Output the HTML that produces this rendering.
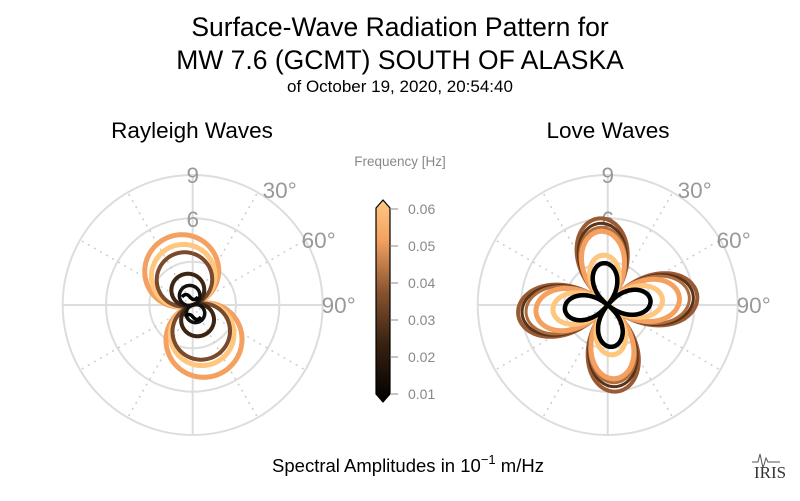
<!DOCTYPE html>
<html><head><meta charset="utf-8"><style>
body{margin:0;background:#fff;width:800px;height:496px;overflow:hidden;font-family:"Liberation Sans",sans-serif}
</style></head><body>
<svg id="s" width="800" height="496" xmlns="http://www.w3.org/2000/svg" font-family="Liberation Sans, sans-serif">
<defs><linearGradient id="cm" x1="0" y1="1" x2="0" y2="0">
<stop offset="0" stop-color="#000"/><stop offset="0.3" stop-color="#3a2312"/><stop offset="0.55" stop-color="#8a5530"/><stop offset="0.8" stop-color="#f4a060"/><stop offset="1" stop-color="#ffc884"/></linearGradient></defs>
<text x="400" y="36" font-size="26.5" text-anchor="middle">Surface-Wave Radiation Pattern for</text>
<text x="400" y="69" font-size="26.5" text-anchor="middle">MW 7.6 (GCMT) SOUTH OF ALASKA</text>
<text x="400" y="92" font-size="17" text-anchor="middle">of October 19, 2020, 20:54:40</text>
<text x="192" y="138" font-size="22.5" text-anchor="middle">Rayleigh Waves</text>
<text x="608" y="138" font-size="22.5" text-anchor="middle">Love Waves</text>
<g id="p1"></g><g id="p2"></g>
<text x="400" y="166" font-size="13.5" fill="#888" text-anchor="middle">Frequency [Hz]</text>
<path d="M376,208 L383,200 L390,208 L390,394 L383,402 L376,394 Z" fill="url(#cm)" stroke="#000" stroke-width="1.2"/>
<g font-size="14" fill="#888" stroke="#888">
<line x1="390" y1="209" x2="398" y2="209"/><text x="408" y="214" stroke="none">0.06</text>
<line x1="390" y1="246" x2="398" y2="246"/><text x="408" y="251" stroke="none">0.05</text>
<line x1="390" y1="283" x2="398" y2="283"/><text x="408" y="288" stroke="none">0.04</text>
<line x1="390" y1="320" x2="398" y2="320"/><text x="408" y="325" stroke="none">0.03</text>
<line x1="390" y1="357" x2="398" y2="357"/><text x="408" y="362" stroke="none">0.02</text>
<line x1="390" y1="394" x2="398" y2="394"/><text x="408" y="399" stroke="none">0.01</text>
</g>
<text x="408" y="472" font-size="18.5" text-anchor="middle">Spectral Amplitudes in 10<tspan dy="-8" font-size="13">−1</tspan><tspan dy="8"> m/Hz</tspan></text>
<text x="770" y="478" font-size="17" font-family="Liberation Serif, serif" text-anchor="middle" fill="#333">IRIS</text>
<path d="M752,462 l6,0 l2,-8 l3,14 l3,-10 l2,4 l12,0" fill="none" stroke="#555" stroke-width="1"/>
</svg>
<script>
const NS="http://www.w3.org/2000/svg";
function el(g,t,a){const e=document.createElementNS(NS,t);for(const k in a)e.setAttribute(k,a[k]);g.appendChild(e);return e;}
function grid(g,cx,cy){
 [43.3,86.7,130].forEach(r=>el(g,"circle",{cx,cy,r,fill:"none",stroke:"#ddd","stroke-width":2}));
 for(let a=0;a<360;a+=30){const t=a*Math.PI/180;const solid=a%90==0;
  el(g,"line",{x1:cx,y1:cy,x2:cx+130*Math.sin(t),y2:cy-130*Math.cos(t),stroke:solid?"#ddd":"#ccc","stroke-width":solid?2:1.5,"stroke-dasharray":solid?"":"2,5"});}
 const L=[["9",cx,cy-122],["6",cx,cy-78],["30°",cx+87,cy-107],["60°",cx+126,cy-57],["90°",cx+146,cy+8]];
 L.forEach(l=>{const t=el(g,"text",{x:l[1],y:l[2],"font-size":22.5,fill:"#999","text-anchor":"middle"});t.textContent=l[0];});
}
function curve(g,cx,cy,f,col,w){let d="";for(let i=0;i<=720;i++){const t=i/720*2*Math.PI;const r=f(t);const x=cx+r*Math.sin(t),y=cy-r*Math.cos(t);d+=(i?"L":"M")+x.toFixed(1)+","+y.toFixed(1);}
 el(g,"path",{d,fill:"none",stroke:col,"stroke-width":w,"stroke-linejoin":"round"});}
const p1=document.getElementById("p1"),p2=document.getElementById("p2");
grid(p1,192.7,305);grid(p2,607.7,305);
const phi=-18*Math.PI/180;
function ray(Au,Al){return t=>{const c=Math.cos(t-phi);return (c>0?Au:Al)*Math.pow(Math.abs(c),0.92);};}
[[20,18,"#111",3.5],[32,32,"#3d2513",4],[54,56,"#7a4a2c",4],[62,62,"#ffc67e",5],[72,74,"#f4a060",5]].reverse().forEach(a=>curve(p1,192.7,305,ray(a[0],a[1]),a[2],a[3]));
el(p1,"path",{d:"M182,297 q4,-5 8,0 t8,0",fill:"none",stroke:"#000","stroke-width":3.5});
el(p1,"path",{d:"M185,317 q4,-5 8,0 t8,0",fill:"none",stroke:"#000","stroke-width":3.5});
const ps=-6*Math.PI/180;
function love(Av,Ah){return t=>{const u=t-ps;const c=Math.cos(2*u);const A=Av*Math.cos(u)**2+Ah*Math.sin(u)**2;return A*Math.pow(Math.abs(c),0.85);};}
[[87,90,"#9a5a34",4],[82,86,"#5a3419",3],[78,82,"#b06c3c",3],[74,72,"#f4a060",5],[50,55,"#ffc67e",5],[42,43,"#000",4.5]].forEach(a=>curve(p2,607.7,305,love(a[0],a[1]),a[2],a[3]));
</script>
</body></html>
